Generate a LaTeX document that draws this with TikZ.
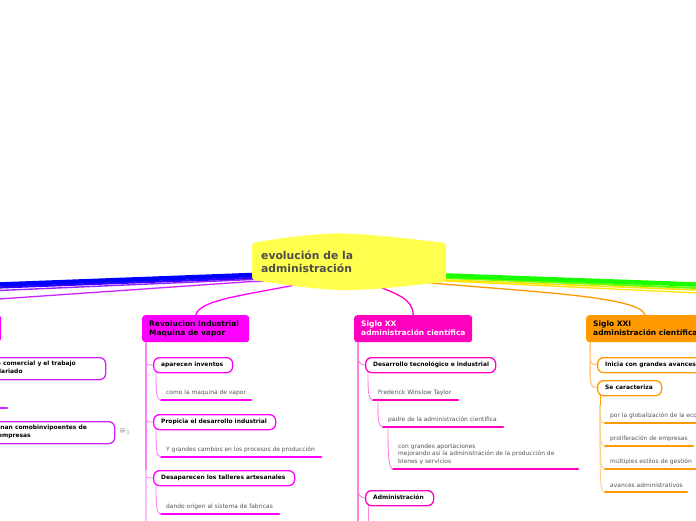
\documentclass[tikz,border=0pt]{standalone}
\usepackage{fontspec}
\setmainfont{DejaVu Sans}
\usetikzlibrary{calc}
\definecolor{mg}{HTML}{FF00FF}
\definecolor{mgl}{HTML}{FF80FF}
\definecolor{pu}{HTML}{CC22FF}
\definecolor{vi}{HTML}{9922FF}
\definecolor{pk}{HTML}{FF00BF}
\definecolor{pkl}{HTML}{FF80DF}
\definecolor{og}{HTML}{FF9900}
\definecolor{ogl}{HTML}{FFCC80}
\definecolor{yel}{HTML}{FFFF4D}
\tikzset{
  mainbox/.style={rounded corners=3pt,minimum height=27pt,inner sep=0pt,anchor=north west},
  maintxt/.style={font=\fontsize{7.5}{9}\selectfont\bfseries,align=left,anchor=west,inner sep=0pt},
  pill/.style={draw,fill=white,line width=1.3pt,rounded corners=6pt,inner sep=0pt,anchor=north west},
  pilltxt/.style={font=\fontsize{5.95}{7.5}\selectfont\bfseries,text=black,align=left,anchor=west,inner sep=0pt},
  subtxt/.style={font=\fontsize{5.95}{7.6}\selectfont,text=black!68,align=left,anchor=south west,inner sep=0pt},
  under/.style={line width=2.8pt,line cap=round},
  link/.style={line width=.9pt},
  trunk/.style={line width=1.5pt},
}
% \pillnode{name}{x1}{y1}{x2}{y2}{colour}{text}
\newcommand{\pillnode}[7]{%
  \node[pill,draw=#6,minimum width=#4pt-#2pt,minimum height=#5pt-#3pt] (#1) at (#2,#3) {};
  \node[pilltxt] (#1t) at (#2+8,{(#3+#5)/2}) {#7};}
% \subnode{name}{textx}{liney}{xend}{colour}{text}
\newcommand{\subnode}[6]{%
  \coordinate (#1l) at (#2-5,#3);
  \coordinate (#1r) at (#4,#3);
  \node[subtxt] (#1t) at (#2,#3-4) {#6};
  \draw[under,#5] (#1l) -- (#1r);}
\begin{document}
\begin{tikzpicture}[x=1pt,y=-1pt]
\useasboundingbox (0,0) rectangle (696,520);
\clip (0,0) rectangle (696,520);

% free ends at the picture's edges
\coordinate (eb1) at (-1,284.5);
\coordinate (eb2) at (-1,287.5);
\coordinate (eb3) at (-1,290.5);
\coordinate (eb4) at (-1,299);
\coordinate (eg1) at (697,284.5);
\coordinate (eg2) at (697,288);
\coordinate (eg3) at (697,290);
\coordinate (eg4) at (697,293);
\coordinate (cl1) at (340,273);
\coordinate (cl2) at (340,276);
\coordinate (cl3) at (340,278);
\coordinate (cl4) at (340,280);
\coordinate (cr1) at (350,272);
\coordinate (cr2) at (350,275);
\coordinate (cr3) at (350,277);
\coordinate (cr4) at (350,279);

% branches running off the picture
\draw[line width=1.3pt,color=pu] (cl4) -- (252,281.5) -- (eb4);
\draw[line width=1.4pt,color=vi] (cl3) -- (252,279.5) -- (eb3);
\draw[line width=2.2pt,color=blue!80!mg] (cl2) -- (252,278) -- (eb2);
\draw[line width=4.5pt,color=blue] (cl1) -- (252,275) -- (eb1);
\draw[line width=1.3pt,color=yellow!90!orange] (cr4) -- (446,281) -- (eg4);
\draw[line width=1.6pt,color=yellow!85!orange] (cr3) -- (446,280) -- (eg3);
\draw[line width=2pt,color=green!60!yellow] (cr2) -- (446,278) -- (eg2);
\draw[line width=4.5pt,color=green!90!yellow] (cr1) -- (446,275.5) -- (eg1);

% main branch boxes
\node[mainbox,fill=mg,minimum width=107pt] (rev) at (142,315) {};
\node[maintxt,text=black] (revt) at (149,328.5) {Revolucion Industrial\\Maquina de vapor};
\node[mainbox,fill=pk,minimum width=118pt] (xx) at (354,315) {};
\node[maintxt,text=white] (xxt) at (361,328.5) {Siglo XX\\administración científica};
\node[mainbox,fill=og,minimum width=120pt] (xxi) at (586,315) {};
\node[maintxt,text=black] (xxit) at (593,328.5) {Siglo XXI\\administración científica};
\node[mainbox,fill=mg,minimum width=40pt,minimum height=26pt] (lft) at (-39,315) {};

% central topic
\coordinate (crev) at (300,284);
\coordinate (cxx) at (378,286);
\coordinate (cxxi) at (420,282);
\draw[line width=1.3pt,mg] (crev) .. controls (240,296) and (200,300) .. (rev.north);
\draw[line width=1.3pt,pk] (cxx) .. controls (395,294) and (413,298) .. (xx.north);
\draw[line width=1.3pt,og] (cxxi) .. controls (530,292) and (640,296) .. (645,315);
\fill[yel,rounded corners=3pt] (252,243) .. controls (280,238) and (320,233) .. (345,233.5)
  .. controls (380,235) and (420,240) .. (446,243) -- (446,282)
  .. controls (420,284) and (380,290) .. (345,290) .. controls (320,290) and (280,284) .. (252,280) -- cycle;
\node[font=\fontsize{10.8}{13}\selectfont\bfseries,text=black!70,align=left,anchor=west,inner sep=0pt] (cen) at (261,262) {evolución de la\\administración};

% left branch (cut by the edge)
\node[pill,draw=pu,minimum width=145pt,minimum height=22pt] (l1) at (-40,357) {};
\node[pilltxt,anchor=east] (l1a) at (76,364) {e comercial y el trabajo};
\node[pilltxt,anchor=west] (l1b) at (-1,371) {lariado};
\subnode{l2}{-3}{408}{7}{pu}{s}
\node[pill,draw=pu,minimum width=154pt,minimum height=22pt] (l3) at (-40,421) {};
\node[pilltxt,anchor=east] (l3a) at (87,428) {nan comobinvipoentes de};
\node[pilltxt,anchor=west] (l3b) at (-2,436) {empresas};
\node[font=\fontsize{8.5}{9}\selectfont,text=black!40,inner sep=0pt] (ic) at (124.5,432) {≡\raisebox{-1pt}{\fontsize{5.5}{6}\selectfont 1}};

% Revolucion Industrial
\draw[trunk,mgl] (146,342) -- (146,470);
\draw[trunk,mg!25] (146,470) -- (146,521);
\pillnode{a}{153}{357}{232}{372}{mg}{aparecen inventos}
\pillnode{b}{153}{414}{275}{429}{mg}{Propicia el desarrollo industrial}
\pillnode{c}{153}{470}{294}{485}{mg}{Desaparecen los talleres artesanales}
\draw[link,mgl] (146,364.5) -- (a.west);
\draw[link,mgl] (146,421.5) -- (b.west);
\draw[link,mgl] (146,477.5) -- (c.west);
\subnode{a1}{166}{400}{251}{mg}{como la maquina de vapor}
\subnode{b1}{166}{457}{321}{mg}{Y grandes cambios en los procesos de producción}
\subnode{c1}{166}{514}{279}{mg}{dando origen al sistema de fabricas}
\draw[link,mgl] (156,372) .. controls (156,390) and (156,400) .. (a1l);
\draw[link,mgl] (156,429) .. controls (156,447) and (156,457) .. (b1l);
\draw[link,mgl] (156,485) .. controls (156,503) and (156,514) .. (c1l);

% Siglo XX
\draw[trunk,pkl] (358,342) -- (358,521);
\pillnode{d}{365}{357}{495}{372}{pk}{Desarrollo tecnológico e industrial}
\pillnode{e}{365}{490}{433}{505}{pk}{Administración}
\draw[link,pkl] (358,355) .. controls (358,362) and (360,364.5) .. (d.west);
\draw[link,pkl] (358,488) .. controls (358,494) and (360,497.5) .. (e.west);
\subnode{d1}{378}{400}{458}{pk}{Frederick Winslow Taylor}
\subnode{d2}{388}{427}{503}{pk}{padre de la administración científica}
\subnode{d3}{398}{469}{578}{pk}{con grandes aportaciones\\mejorando así la administración de la producción de\\bienes y servicios}
\draw[link,pkl] (368,372) .. controls (368,390) and (368,400) .. (d1l);
\draw[link,pkl] (378,400) .. controls (378,418) and (378,427) .. (d2l);
\draw[link,pkl] (388,427) .. controls (388,450) and (388,469) .. (d3l);
\draw[link,pkl] (368,505) -- (368,521);

% Siglo XXI
\draw[trunk,ogl] (590,342) .. controls (590,365) and (590,364.5) .. (597,364.5);
\draw[trunk,ogl] (590,360) .. controls (590,384) and (590,387.5) .. (597,387.5);
\pillnode{f}{597}{357}{710}{372}{og}{Inicia con grandes avances}
\pillnode{g}{597}{380}{661}{395}{og}{Se caracteriza}
\subnode{g1}{610}{423}{705}{og}{por la globalización de la economía}
\subnode{g2}{610}{446}{693}{og}{proliferación de empresas}
\subnode{g3}{610}{469}{705}{og}{múltiples estilos de gestión}
\subnode{g4}{610}{492}{687}{og}{avances administrativos}
\draw[link,og] (600,395) -- (600,405);
\draw[link,ogl] (600,405) .. controls (600,420) and (600,423) .. (g1l);
\draw[link,ogl] (600,405) .. controls (600,440) and (600,446) .. (g2l);
\draw[link,ogl] (600,405) .. controls (600,463) and (600,469) .. (g3l);
\draw[link,ogl] (600,405) .. controls (600,486) and (600,492) .. (g4l);
\end{tikzpicture}
\end{document}
